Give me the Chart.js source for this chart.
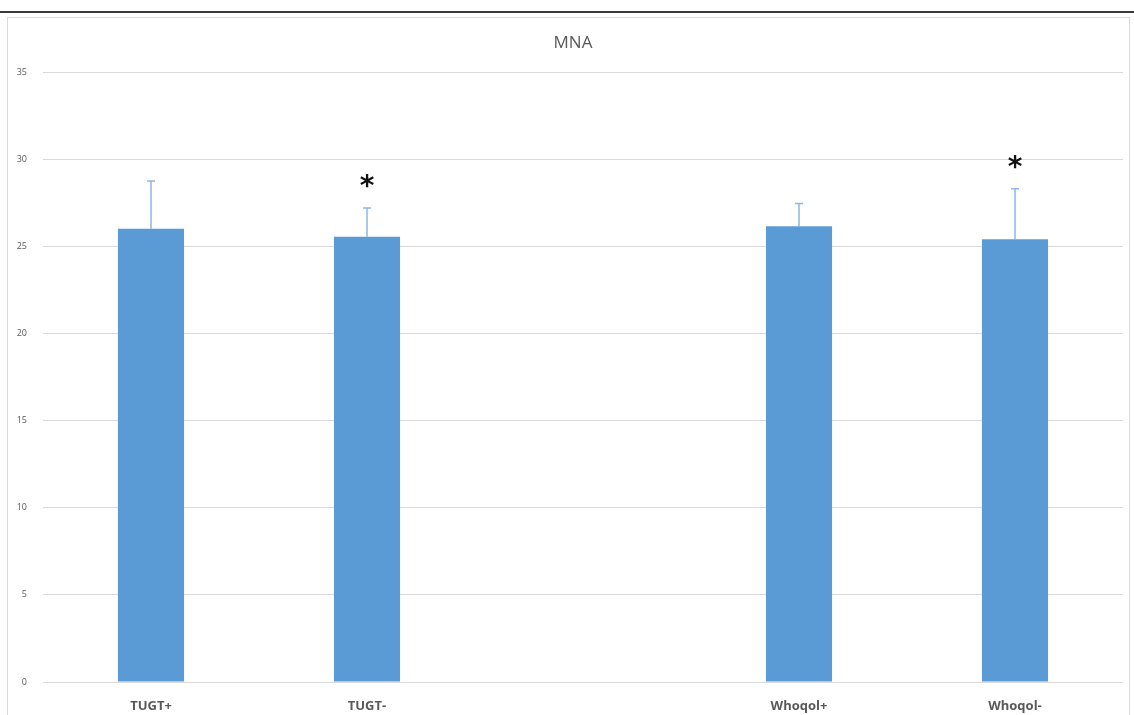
<!DOCTYPE html>
<html>
<head>
<meta charset="utf-8">
<script src="https://cdn.jsdelivr.net/npm/chart.js@4"></script>
<style>
  body { margin: 0; background: #fff; }
  #wrap { width: 1134px; height: 715px; position: relative; }
</style>
</head>
<body>
<div id="wrap"><canvas id="grafico"></canvas></div>
<script>
// datos
const categorias = ["TUGT+", "TUGT-", "", "Whoqol+", "Whoqol-"];
const medias = [26.0, 25.55, null, 26.15, 25.4];
const errores = [2.75, 1.65, null, 1.3, 2.9];
const asteriscos = [null, 28.7, null, null, 29.8];
const ticksY = [0, 5, 10, 15, 20, 25, 30, 35];

// marco de la figura y titulo
const marco = {
    id: 'marco',
    beforeDraw(chart) {
        let ctx = chart.ctx;
        ctx.save();
        ctx.strokeStyle = '#d9d9d9';
        ctx.lineWidth = 1;
        ctx.strokeRect(7.5, 17.5, 1122, 710);
        ctx.strokeStyle = '#3a3a3a';
        ctx.lineWidth = 2;
        ctx.beginPath();
        ctx.moveTo(0, 12);
        ctx.lineTo(1134, 12);
        ctx.stroke();
        ctx.fillStyle = '#595959';
        ctx.font = '17px "Open Sans", sans-serif';
        ctx.textAlign = 'center';
        ctx.textBaseline = 'middle';
        ctx.fillText('MNA', 573, 43);
        ctx.restore();
    }
};

// barras de error y asteriscos
const barrasError = {
    id: 'barrasError',
    afterDatasetsDraw(chart) {
        let ctx = chart.ctx;
        let x = chart.scales.x;
        let y = chart.scales.y;
        ctx.save();
        ctx.strokeStyle = '#8fb8e4';
        ctx.lineWidth = 1.5;
        medias.forEach((m, i) => {
            if (m === null) return;
            let px = Math.round(x.getPixelForValue(i));
            let y0 = y.getPixelForValue(m);
            let y1 = y.getPixelForValue(m + errores[i]);
            ctx.beginPath();
            ctx.moveTo(px, y0);
            ctx.lineTo(px, y1);
            ctx.moveTo(px - 4, y1);
            ctx.lineTo(px + 4, y1);
            ctx.stroke();
        });
        ctx.fillStyle = '#111';
        ctx.font = 'bold 28px "DejaVu Sans", sans-serif';
        ctx.textAlign = 'center';
        ctx.textBaseline = 'middle';
        asteriscos.forEach((a, i) => {
            if (a === null) return;
            ctx.fillText('*', x.getPixelForValue(i), y.getPixelForValue(a) + 6);
        });
        ctx.restore();
    }
};

let config = {
    type: 'bar',
    data: {
        labels: categorias,
        datasets: [{
            data: medias,
            backgroundColor: '#5b9bd5',
            barPercentage: 0.306,
            categoryPercentage: 1
        }]
    },
    options: {
        responsive: true,
        maintainAspectRatio: false,
        animation: false,
        layout: { padding: { top: 72, right: 11, left: 0, bottom: 0 } },
        plugins: {
            legend: { display: false },
            title: { display: false },
            tooltip: { enabled: false }
        },
        scales: {
            x: {
                grid: { display: false },
                border: { display: false },
                ticks: {
                    color: '#595959',
                    font: { size: 13, weight: 'bold', family: '"Open Sans", sans-serif' },
                    padding: 8,
                    maxRotation: 0
                },
                afterFit(scale) { scale.height = 33; }
            },
            y: {
                min: 0,
                max: 35,
                afterBuildTicks(scale) {
                    scale.ticks = ticksY.map(v => ({ value: v }));
                },
                grid: { color: '#d9d9d9', drawTicks: false },
                border: { display: false },
                ticks: {
                    color: '#595959',
                    font: { size: 9, family: '"Open Sans", sans-serif' },
                    padding: 16
                },
                afterFit(scale) { scale.width = 43; }
            }
        }
    },
    plugins: [marco, barrasError]
};

new Chart(document.getElementById('grafico').getContext('2d'), config);
</script>
</body>
</html>
